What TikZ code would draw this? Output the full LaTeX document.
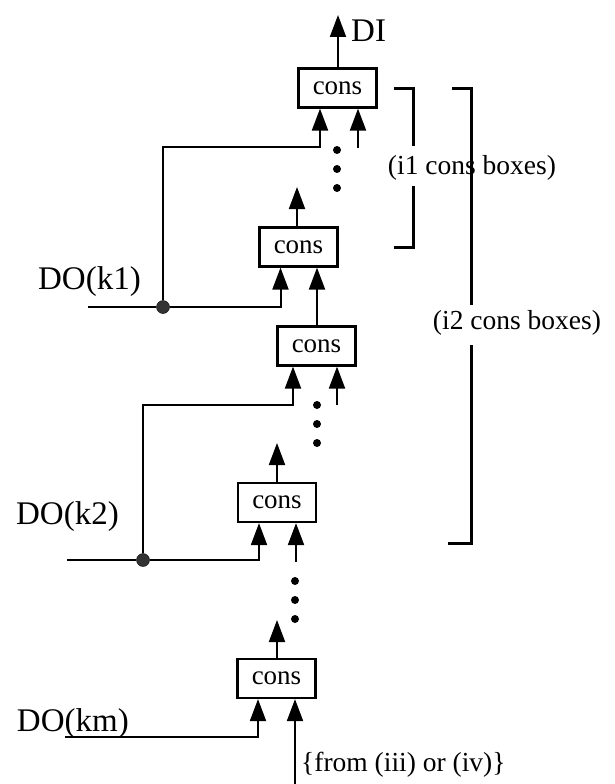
\documentclass[tikz,border=0pt]{standalone}
\usepackage{fontspec}
\setmainfont{Liberation Serif}
\usetikzlibrary{arrows.meta}
\begin{document}
\begin{tikzpicture}[x=1pt,y=-1pt,
  consbox/.style={draw,line width=2.2pt,minimum width=78pt,minimum height=39pt,inner sep=0pt,font=\fontsize{27}{30}\selectfont},
  wire/.style={line width=2pt},
  arr/.style={wire,-{Triangle[length=22pt,width=16pt]}},
  brk/.style={line width=3pt},
  jdot/.style={circle,fill=black!80,draw=black,inner sep=0pt,minimum size=13pt},
  sdot/.style={circle,fill=black,inner sep=0pt,minimum size=8pt},
  big/.style={font=\fontsize{33}{36}\selectfont},
  mid/.style={font=\fontsize{27.5}{30}\selectfont}]
\useasboundingbox (0,0) rectangle (614,784);
% boxes
\node[consbox] (c1) at (337.5,88) {cons};
\node[consbox] (c2) at (298.5,247) {cons};
\node[consbox] (c3) at (316.5,346) {cons};
\node[consbox] (c4) at (277,502.5) {cons};
\node[consbox] (c5) at (276.5,678.5) {cons};
% junction dots
\node[jdot] (d1) at (163,307) {};
\node[jdot] (d2) at (143,560) {};
% continuation dots
\foreach \y [count=\i] in {150,169,188} {\node[sdot] (pa\i) at (337,\y) {};}
\foreach \y [count=\i] in {405,424,443} {\node[sdot] (pb\i) at (317,\y) {};}
\foreach \y [count=\i] in {581,600,619} {\node[sdot] (pc\i) at (295,\y) {};}
% free ends
\coordinate (top) at (338,15);
\coordinate (o2) at (297,187);
\coordinate (o4) at (277,443);
\coordinate (o5) at (277,620);
\coordinate (k1s) at (88,307);
\coordinate (k2s) at (67,560);
\coordinate (kms) at (65,737);
\coordinate (r1) at (358,148);
\coordinate (r3) at (337,405);
\coordinate (r4) at (296,562);
\coordinate (r5) at (295,784);
\coordinate (l1) at (320,147);
\coordinate (l3) at (293,405);
% labels
\node[big,anchor=west,inner sep=0pt] (di) at (351,31) {DI};
\node[big,anchor=east,inner sep=0pt] (k1) at (141,282) {DO(k1)};
\node[big,anchor=east,inner sep=0pt] (k2) at (119,517) {DO(k2)};
\node[big,anchor=east,inner sep=0pt] (km) at (129,724) {DO(km)};
\node[mid,anchor=west,inner sep=0pt] (from) at (301,765) {\{from (iii) or (iv)\}};
% outputs
\draw[arr] (c1.north -| top) -- (top);
\draw[arr] (c2.north -| o2) -- (o2);
\draw[arr] (c4.north -| o4) -- (o4);
\draw[arr] (c5.north -| o5) -- (o5);
% inputs box 1
\draw[arr] (d1) |- (l1) -- (c1.south -| l1);
\draw[arr] (r1) -- (c1.south -| r1);
% box 2
\draw[wire] (k1s) -- (d1);
\draw[arr] (d1) -| ([xshift=-18pt]c2.south);
\draw[arr] (c3.north -| 317,0) -- (c2.south -| 317,0);
% box 3
\draw[arr] (d2) |- (l3) -- (c3.south -| l3);
\draw[arr] (r3) -- (c3.south -| r3);
% box 4
\draw[wire] (k2s) -- (d2);
\draw[arr] (d2) -| ([xshift=-18pt]c4.south);
\draw[arr] (r4) -- (c4.south -| r4);
% box 5
\draw[arr] (kms) -| ([xshift=-18.5pt]c5.south);
\draw[arr] (r5) -- (c5.south -| r5);
% brackets
\draw[brk] (394,88) -- (413,88) -- (413,146);
\draw[brk] (413,186) -- (413,247) -- (394,247);
\draw[brk] (452,88) -- (471,88) -- (471,305);
\draw[brk] (471,345) -- (471,543) -- (448,543);
\node[mid,inner sep=0pt] (i1) at (472,168) {(i1 cons boxes)};
\node[mid,inner sep=0pt] (i2) at (517,323) {(i2 cons boxes)};
\end{tikzpicture}
\end{document}
